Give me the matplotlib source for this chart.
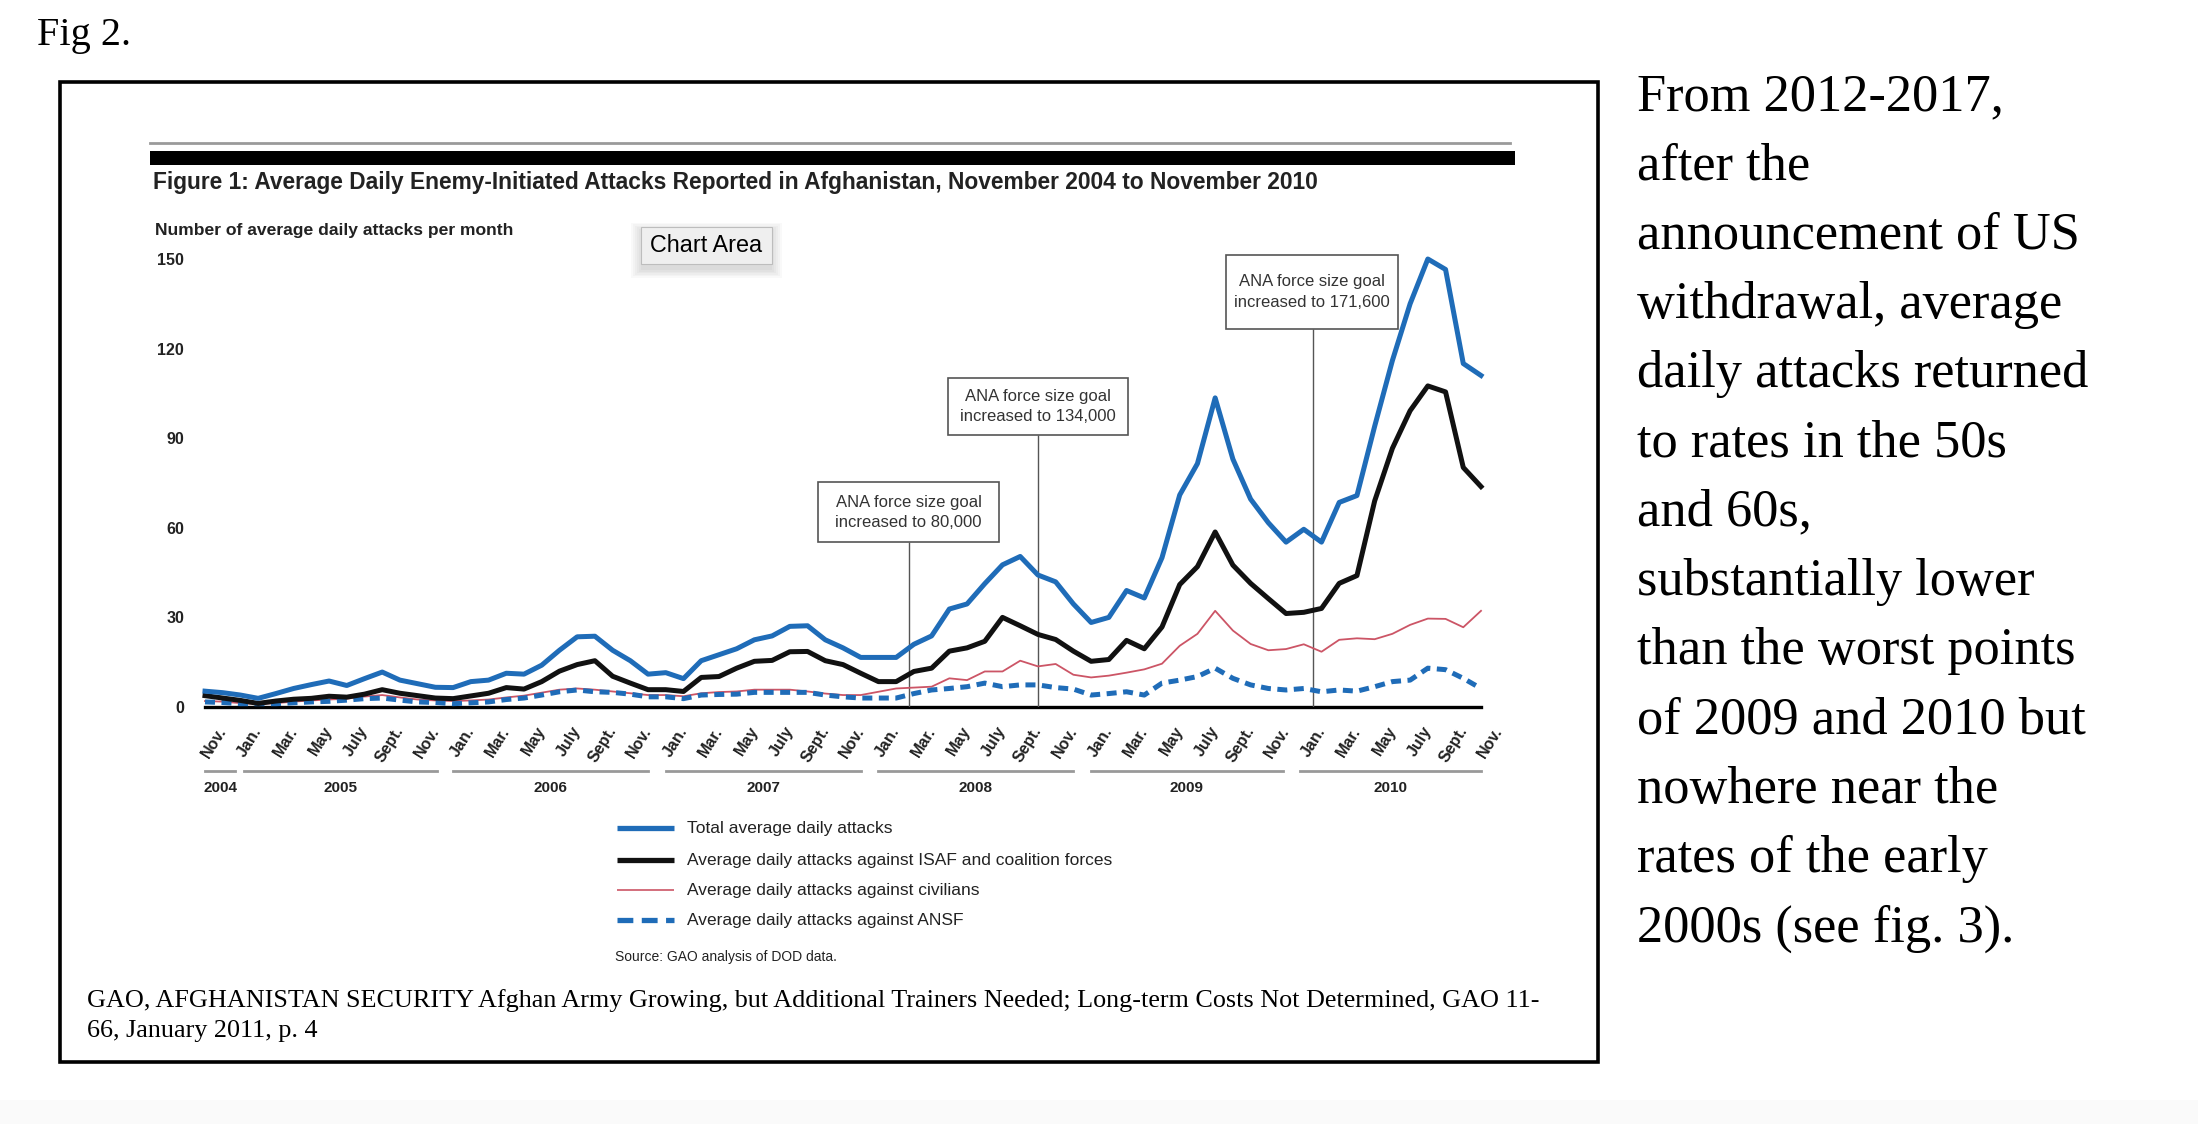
import numpy as np
import matplotlib.pyplot as plt
from matplotlib.patches import Rectangle
from matplotlib.transforms import ScaledTranslation

W, H = 2198, 1124

# monthly values, Nov 2004 .. Nov 2010 (73 months)
total = [5.3, 4.8, 4.0, 2.9, 4.5, 6.2, 7.5, 8.7, 7.2, 9.5, 11.7, 9.0, 7.8, 6.6, 6.5, 8.5,
         9.0, 11.3, 11.0, 14.0, 19.0, 23.5, 23.7, 19.0, 15.5, 11.0, 11.5, 9.5, 15.5, 17.5,
         19.5, 22.5, 23.8, 27.0, 27.2, 22.5, 19.8, 16.6, 16.6, 16.6, 21.0, 23.8, 32.8, 34.5,
         41.3, 47.6, 50.4, 44.2, 41.9, 34.5, 28.3, 30.0, 39.0, 36.5, 50.0, 71.0, 81.5, 103.5,
         83.0, 69.6, 61.7, 55.2, 59.5, 55.2, 68.5, 70.8, 94.0, 116.0, 135.0, 150.0, 146.5,
         115.0, 111.0]
isaf = [3.8, 3.0, 2.2, 1.2, 2.0, 2.6, 2.9, 3.6, 3.3, 4.3, 5.8, 4.6, 3.8, 3.0, 2.8, 3.7,
        4.6, 6.5, 6.0, 8.5, 12.0, 14.2, 15.5, 10.3, 8.0, 5.8, 5.8, 5.2, 9.9, 10.2, 13.0,
        15.3, 15.6, 18.5, 18.6, 15.5, 14.2, 11.3, 8.5, 8.5, 11.9, 13.0, 18.7, 19.8, 22.0,
        30.0, 27.2, 24.3, 22.6, 18.7, 15.3, 15.9, 22.3, 19.5, 26.8, 41.0, 47.0, 58.6, 47.5,
        41.4, 36.3, 31.3, 31.7, 33.0, 41.4, 44.0, 69.0, 86.6, 99.2, 107.5, 105.5, 80.2, 73.8]
civilians = [2.0, 1.8, 1.3, 1.0, 1.3, 1.8, 2.2, 2.5, 2.8, 3.5, 4.0, 3.2, 2.5, 2.2, 2.0, 2.2,
             2.5, 3.2, 3.8, 4.8, 5.8, 6.2, 5.8, 5.2, 4.6, 4.0, 4.0, 3.6, 4.6, 5.0, 5.2, 5.8,
             5.8, 5.8, 5.2, 4.5, 4.0, 4.0, 5.1, 6.2, 6.5, 6.8, 9.6, 9.0, 11.9, 11.9, 15.5,
             13.6, 14.4, 10.8, 9.9, 10.5, 11.5, 12.6, 14.5, 20.5, 24.5, 32.2, 25.6, 21.1,
             19.0, 19.4, 21.0, 18.5, 22.5, 23.0, 22.7, 24.5, 27.5, 29.6, 29.5, 26.7, 32.2]
ansf = [1.7, 1.5, 1.1, 1.1, 1.1, 1.4, 1.7, 1.9, 2.3, 2.8, 3.0, 2.3, 1.7, 1.5, 1.1, 1.4,
        1.7, 2.5, 3.0, 4.0, 5.1, 5.7, 5.1, 4.9, 4.3, 3.4, 3.4, 2.8, 4.0, 4.2, 4.3, 4.9,
        4.9, 4.9, 4.9, 4.0, 3.4, 3.0, 3.0, 3.0, 4.5, 5.7, 6.2, 6.8, 8.0, 6.8, 7.4, 7.4,
        6.5, 6.0, 4.0, 4.5, 5.1, 4.0, 8.0, 9.0, 10.2, 13.0, 9.6, 7.4, 6.2, 5.7, 6.2, 5.1,
        5.7, 5.3, 6.8, 8.5, 9.0, 13.0, 12.5, 9.6, 6.2]
months = np.arange(len(total))

tick_labels = ['Nov.'] + ['Jan.', 'Mar.', 'May', 'July', 'Sept.', 'Nov.'] * 6
years = ['2004', '2005', '2006', '2007', '2008', '2009', '2010']
year_spans = [(0, 1.7), (2.2, 13.1), (14, 25), (26, 37), (38, 49), (50, 60.8), (61.8, 72)]

# ANA force size goal announcements (month index) and their boxes (data units)
goal_months = [39.7, 47.0, 62.5]
goal_text = ['ANA force size goal\nincreased to 80,000',
             'ANA force size goal\nincreased to 134,000',
             'ANA force size goal\nincreased to 171,600']
goal_boxes = [(34.6, 55.2, 10.2, 20.0), (41.9, 91.1, 10.2, 19.0), (57.6, 126.5, 9.7, 24.8)]

legend_labels = ['Total average daily attacks',
                 'Average daily attacks against ISAF and coalition forces',
                 'Average daily attacks against civilians',
                 'Average daily attacks against ANSF']

side_text = ['From 2012-2017,', 'after the', 'announcement of US', 'withdrawal, average',
             'daily attacks returned', 'to rates in the 50s', 'and 60s,',
             'substantially lower', 'than the worst points', 'of 2009 and 2010 but',
             'nowhere near the', 'rates of the early', '2000s (see fig. 3).']

BLUE = '#1f6cb8'
RED = '#cc5566'
INK = '#222222'
SANS = 'Liberation Sans'
SERIF = 'Liberation Serif'

fig = plt.figure(figsize=(W / 100, H / 100), dpi=100)

# page layer in pixel coordinates (y down)
bg = fig.add_axes([0, 0, 1, 1])
bg.set_xlim(0, W)
bg.set_ylim(H, 0)
bg.axis('off')

bg.add_patch(Rectangle((0, 1100), W, 24, facecolor='#fafafa', edgecolor='none'))
bg.text(37, 45, 'Fig 2.', family=SERIF, fontsize=29, va='baseline')
bg.add_patch(Rectangle((60, 82), 1538, 980, fill=False, edgecolor='black', lw=2.6))

bg.plot([150, 1510], [142.7, 142.7], color='#9a9a9a', lw=2)
bg.add_patch(Rectangle((150, 150.5), 1365, 14.5, facecolor='black', edgecolor='none'))
bg.text(153, 182, 'Figure 1: Average Daily Enemy-Initiated Attacks Reported in Afghanistan, '
        'November 2004 to November 2010', family=SANS, fontweight='bold', fontsize=16.4,
        va='center', color=INK)
bg.text(155, 230, 'Number of average daily attacks per month', family=SANS,
        fontweight='bold', fontsize=12.6, va='center', color=INK)

# "Chart Area" tooltip
for k in range(6):
    bg.add_patch(Rectangle((641 - k * 2, 230 - k * 1.5), 131 + k * 4, 40 + k * 3,
                           facecolor='black', edgecolor='none', alpha=0.022))
bg.add_patch(Rectangle((641, 227), 131, 37, facecolor='#efefef', edgecolor='#bdbdbd', lw=0.8))
bg.text(650, 246, 'Chart Area', family=SANS, fontsize=16.8, va='center', color='black')

# legend
leg_y = [828, 860, 890, 920]
leg_style = [dict(color=BLUE, lw=3.8), dict(color='#111111', lw=3.8),
             dict(color=RED, lw=1.2), dict(color=BLUE, lw=3.8, dashes=(3, 1.6))]
for y, lab, st in zip(leg_y, legend_labels, leg_style):
    bg.plot([617, 674], [y, y], solid_capstyle='butt', dash_capstyle='butt', **st)
    bg.text(687, y, lab, family=SANS, fontsize=12.5, va='center', color=INK)
bg.text(615, 957, 'Source: GAO analysis of DOD data.', family=SANS, fontsize=10,
        va='center', color=INK)

bg.text(87, 1007, 'GAO, AFGHANISTAN SECURITY Afghan Army Growing, but Additional Trainers '
        'Needed; Long-term Costs Not Determined, GAO 11-', family=SERIF, fontsize=18.8,
        va='baseline')
bg.text(87, 1037, '66, January 2011, p. 4', family=SERIF, fontsize=18.8, va='baseline')

for k, line in enumerate(side_text):
    bg.text(1637, 110 + 69.3 * k, line, family=SERIF, fontsize=37.7, va='baseline')

# chart
ax = fig.add_axes([205 / W, 1 - 707 / H, (1481 - 205) / W, (707 - 259) / H])
ax.set_facecolor('none')
ax.set_xlim(0, 72)
ax.set_ylim(0, 150)
for s in ax.spines.values():
    s.set_visible(False)

ax.axhline(0, color='black', lw=2.4, clip_on=False, zorder=1)
ax.vlines(goal_months, 0, [b[1] for b in goal_boxes], color='#555555', lw=1, zorder=2)
for (x0, y0, w, h), m, txt in zip(goal_boxes, goal_months, goal_text):
    ax.add_patch(Rectangle((x0, y0), w, h, facecolor='white', edgecolor='#555555',
                           lw=1.2, clip_on=False, zorder=2))
    ax.text(x0 + w / 2, y0 + h / 2, txt, ha='center', va='center', family=SANS,
            fontsize=12, color='#333333', linespacing=1.45, zorder=3)

ax.plot(months, civilians, color=RED, lw=1.3, clip_on=False, zorder=4)
ax.plot(months, ansf, color=BLUE, lw=3.6, dashes=(2.0, 1.3), clip_on=False, zorder=5)
ax.plot(months, isaf, color='#111111', lw=3.6, clip_on=False, zorder=6)
ax.plot(months, total, color=BLUE, lw=3.6, clip_on=False, zorder=7)

ax.set_yticks(np.arange(0, 151, 30))
ax.set_yticklabels([str(v) for v in range(0, 151, 30)], family=SANS, fontweight='bold',
                   fontsize=11.5, color=INK)
ax.set_xticks(months[::2])
ax.set_xticklabels(tick_labels, rotation=58, ha='right', va='center',
                   rotation_mode='anchor', family=SANS, fontweight='bold',
                   fontsize=11.5, color=INK)
ax.tick_params(length=0)
ax.tick_params(axis='y', pad=15)
ax.tick_params(axis='x', pad=15)
shift = ScaledTranslation(0.18, 0, fig.dpi_scale_trans)
for lab in ax.get_xticklabels():
    lab.set_transform(lab.get_transform() + shift)

xt = ax.get_xaxis_transform()
for yr, (a, b) in zip(years, year_spans):
    ax.plot([a, b], [-0.143, -0.143], transform=xt, color='#999999', lw=2, clip_on=False)
    ax.text((a + b) / 2, -0.181, yr, transform=xt, ha='center', va='center',
            family=SANS, fontweight='bold', fontsize=11, color=INK)

fig.savefig('out.png', dpi=100)
plt.close(fig)
